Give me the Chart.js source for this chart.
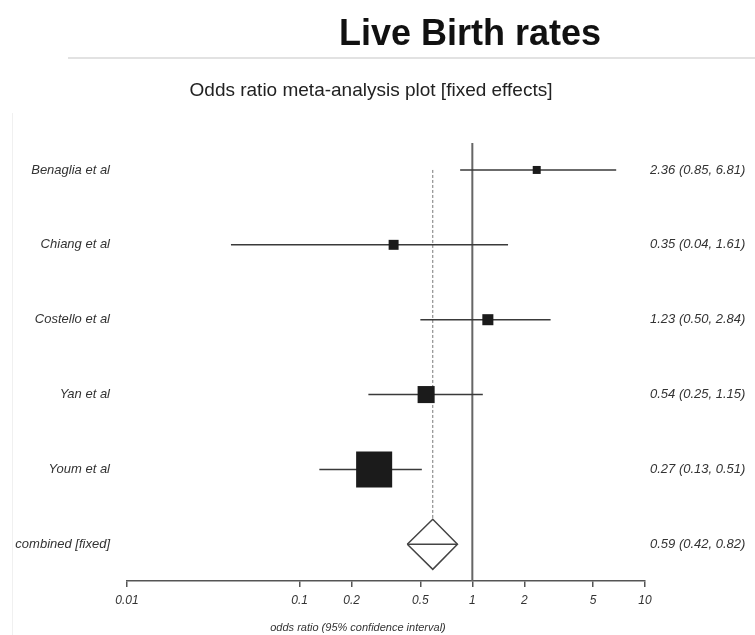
<!DOCTYPE html>
<html>
<head>
<meta charset="utf-8">
<title>Live Birth rates</title>
<script src="https://cdn.jsdelivr.net/npm/chart.js@4.4.1/dist/chart.umd.min.js"></script>
<style>
  body { margin: 0; background: #fff; font-family: "Liberation Sans", Arial, sans-serif; overflow: hidden; }
  #wrap { position: absolute; left: 0; top: 0; width: 755px; height: 635px; }
  .txt { position: absolute; white-space: nowrap; text-align: center; color: #222; }
  #title { left: 270px; width: 400px; top: 12px; font-size: 36px; font-weight: bold; color: #111; }
  #rule { position: absolute; left: 68px; top: 57px; width: 687px; height: 2px; background: #e2e2e2; }
  #subtitle { left: 171px; width: 400px; top: 79px; font-size: 19px; }
  #xtitle { left: 208px; width: 300px; top: 621px; font-size: 11px; font-style: italic; color: #333; }
  #edge { position: absolute; left: 12px; top: 113px; width: 0; height: 522px; border-left: 1px solid #f0f0f0; }
</style>
</head>
<body>
<div id="wrap"><canvas id="forest"></canvas></div>
<div id="edge"></div>
<div class="txt" id="title">Live Birth rates</div>
<div id="rule"></div>
<div class="txt" id="subtitle">Odds ratio meta-analysis plot [fixed effects]</div>
<div class="txt" id="xtitle">odds ratio (95% confidence interval)</div>
<script>
// studies, top to bottom
const studies = ['Benaglia et al', 'Chiang et al', 'Costello et al', 'Yan et al', 'Youm et al'];
const oddsRatio = [2.36, 0.35, 1.23, 0.54, 0.27];
const lowerCI = [0.85, 0.04, 0.50, 0.25, 0.13];
const upperCI = [6.81, 1.61, 2.84, 1.15, 0.51];
const weights = [3.4, 5.3, 6.5, 15.5, 69.3]; // % weight, box area

const combinedLabel = 'combined [fixed]';
const combinedOR = 0.59;
const combinedLower = 0.42;
const combinedUpper = 0.82;

const xTicks = [0.01, 0.1, 0.2, 0.5, 1, 2, 5, 10];

const rowLabels = studies.concat([combinedLabel]);
const rowText = oddsRatio.map(function (v, i) {
  return v.toFixed(2) + ' (' + lowerCI[i].toFixed(2) + ', ' + upperCI[i].toFixed(2) + ')';
}).concat([combinedOR.toFixed(2) + ' (' + combinedLower.toFixed(2) + ', ' + combinedUpper.toFixed(2) + ')']);

const yMin = -0.36, yMax = 5.49;
const comboRow = studies.length;
const halfDiamond = 0.334;
const boxScale = 4.33; // px of box side per sqrt(weight)

const lineColor = '#3a3a3a';
const labelFont = { family: 'Liberation Sans', size: 13, style: 'italic' };

var datasets = [];

// squares
datasets.push({
  type: 'scatter',
  data: oddsRatio.map(function (v, i) { return { x: v, y: i }; }),
  pointStyle: 'rect',
  pointRadius: weights.map(function (w) { return Math.sqrt(w) * boxScale / Math.SQRT2; }),
  backgroundColor: '#1b1b1b',
  borderWidth: 0,
  order: 0
});

// confidence intervals
studies.forEach(function (s, i) {
  datasets.push({
    type: 'line',
    data: [{ x: lowerCI[i], y: i }, { x: upperCI[i], y: i }],
    borderColor: lineColor,
    borderWidth: 1.5,
    pointRadius: 0,
    order: 2
  });
});

// combined diamond + its interval line
datasets.push({
  type: 'line',
  data: [
    { x: combinedLower, y: comboRow },
    { x: combinedOR, y: comboRow - halfDiamond },
    { x: combinedUpper, y: comboRow },
    { x: combinedOR, y: comboRow + halfDiamond },
    { x: combinedLower, y: comboRow }
  ],
  borderColor: '#444',
  borderWidth: 1.5,
  pointRadius: 0,
  tension: 0,
  order: 1
});
datasets.push({
  type: 'line',
  data: [{ x: combinedLower, y: comboRow }, { x: combinedUpper, y: comboRow }],
  borderColor: '#444',
  borderWidth: 1.5,
  pointRadius: 0,
  order: 1
});

// dashed line at pooled estimate
datasets.push({
  type: 'line',
  data: [{ x: combinedOR, y: 0 }, { x: combinedOR, y: comboRow - halfDiamond }],
  borderColor: '#777',
  borderWidth: 1,
  borderDash: [3, 2],
  pointRadius: 0,
  order: 3
});

// line of no effect
datasets.push({
  type: 'line',
  data: [{ x: 1, y: yMin }, { x: 1, y: yMax }],
  borderColor: '#666',
  borderWidth: 2,
  pointRadius: 0,
  order: 3
});

function rowTicks(scale) {
  scale.ticks = rowLabels.map(function (l, i) { return { value: i }; });
}

new Chart(document.getElementById('forest'), {
  type: 'scatter',
  data: { datasets: datasets },
  options: {
    responsive: true,
    maintainAspectRatio: false,
    animation: false,
    layout: { padding: { top: 143, left: 0, right: 0, bottom: 0 } },
    plugins: { legend: { display: false }, tooltip: { enabled: false }, title: { display: false } },
    scales: {
      x: {
        type: 'logarithmic',
        min: 0.01,
        max: 10,
        afterBuildTicks: function (scale) {
          scale.ticks = xTicks.map(function (v) { return { value: v }; });
        },
        afterFit: function (scale) { scale.height = 54; },
        ticks: {
          autoSkip: false,
          maxRotation: 0,
          padding: 6,
          color: '#333',
          font: { family: 'Liberation Sans', size: 12, style: 'italic' },
          callback: function (v) { return String(v); }
        },
        grid: { drawOnChartArea: false, drawTicks: true, tickLength: 6, color: '#555', lineWidth: 1.5 },
        border: { display: true, color: '#555', width: 1.5 }
      },
      y: {
        type: 'linear',
        position: 'left',
        reverse: true,
        min: yMin,
        max: yMax,
        afterBuildTicks: rowTicks,
        afterFit: function (scale) { scale.width = 127; scale.paddingTop = 0; scale.paddingBottom = 0; },
        ticks: {
          padding: 17,
          color: '#333',
          font: labelFont,
          callback: function (v) { return rowLabels[v]; }
        },
        grid: { display: false, drawTicks: false },
        border: { display: false }
      },
      y2: {
        type: 'linear',
        position: 'right',
        reverse: true,
        min: yMin,
        max: yMax,
        afterBuildTicks: rowTicks,
        afterFit: function (scale) { scale.width = 110; scale.paddingTop = 0; scale.paddingBottom = 0; },
        ticks: {
          padding: 5,
          color: '#333',
          font: labelFont,
          callback: function (v) { return rowText[v]; }
        },
        grid: { display: false, drawTicks: false },
        border: { display: false }
      }
    }
  }
});
</script>
</body>
</html>
